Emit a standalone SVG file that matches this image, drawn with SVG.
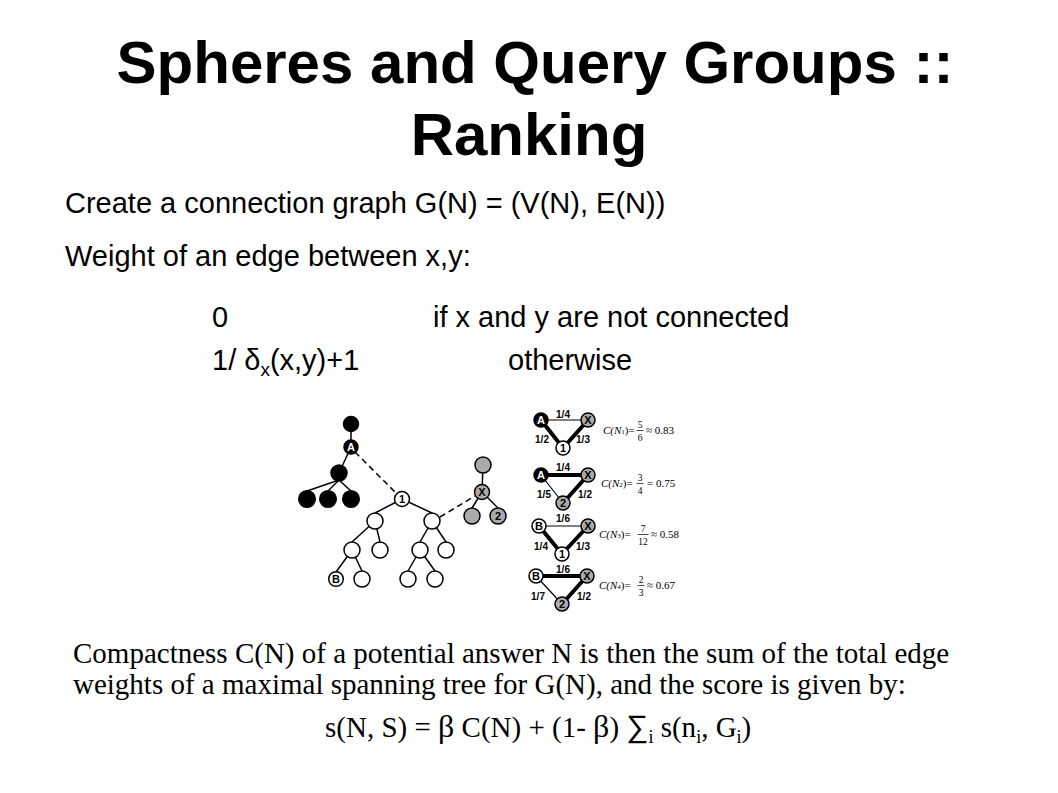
<svg xmlns="http://www.w3.org/2000/svg" width="1058" height="793" viewBox="0 0 1058 793">
<style>
.sans{font-family:"Liberation Sans",Arial,sans-serif;fill:#000}
.serif{font-family:"Liberation Serif","Times New Roman",serif;fill:#000}
.title{font-size:60px;font-weight:bold;text-anchor:middle}
.body{font-size:29px}
.edge{stroke:#000;stroke-width:1.5;fill:none}
.dash{stroke-dasharray:6 4}
.thick{stroke-width:4}
.thin{stroke-width:1.2}
circle{stroke:#000;stroke-width:1.5}
.w{fill:#fff}
.b{fill:#000}
.g{fill:#aaaaaa}
.lbl{font-family:"Liberation Sans",Arial,sans-serif;font-weight:bold;font-size:11px;text-anchor:middle;fill:#000}
.lw{fill:#fff}
.wl{font-family:"Liberation Sans",Arial,sans-serif;font-weight:bold;font-size:10px;text-anchor:middle;fill:#000}
.f{font-family:"Liberation Serif","Times New Roman",serif;font-size:11px;fill:#000}
.fi{font-style:italic}
.fr{font-family:"Liberation Serif","Times New Roman",serif;font-size:9.5px;text-anchor:middle;fill:#000}
.bar{stroke:#000;stroke-width:0.7}
</style>
<rect width="1058" height="793" fill="#fff"/>
<g id="title">
<text class="sans title" x="535" y="83">Spheres and Query Groups ::</text>
<text class="sans title" x="529" y="155">Ranking</text>
</g>
<g id="text-top">
<text class="sans body" x="65" y="213">Create a connection graph G(N) = (V(N), E(N))</text>
<text class="sans body" x="65" y="266">Weight of an edge between x,y:</text>
<text class="sans body" x="212" y="327">0</text>
<text class="sans body" x="433" y="327">if x and y are not connected</text>
<text class="sans body" x="212" y="370">1/ δ<tspan font-size="19" dy="6">x</tspan><tspan dy="-6">(x,y)+1</tspan></text>
<text class="sans body" x="508" y="370">otherwise</text>
</g>
<g id="connectors">
<line class="edge" x1="351" y1="424" x2="351" y2="447" stroke-width="2"/>
<line class="edge" x1="351" y1="447" x2="339" y2="473"/>
<line class="edge" x1="339" y1="480" x2="307" y2="491"/>
<line class="edge" x1="339" y1="480" x2="328" y2="491"/>
<line class="edge" x1="339" y1="480" x2="351" y2="491"/>
<line class="edge dash" x1="355" y1="452" x2="397" y2="494"/>
<line class="edge" x1="402" y1="499" x2="375" y2="513"/>
<line class="edge" x1="402" y1="499" x2="432" y2="513"/>
<line class="edge" x1="375" y1="521" x2="352" y2="542"/>
<line class="edge" x1="375" y1="521" x2="380" y2="542"/>
<line class="edge" x1="432" y1="521" x2="420" y2="542"/>
<line class="edge" x1="432" y1="521" x2="446" y2="542"/>
<line class="edge" x1="352" y1="550" x2="336" y2="572"/>
<line class="edge" x1="352" y1="550" x2="362" y2="571"/>
<line class="edge" x1="420" y1="550" x2="408" y2="571"/>
<line class="edge" x1="420" y1="550" x2="435" y2="571"/>
<line class="edge dash" x1="440" y1="517" x2="475" y2="496"/>
<line class="edge" x1="483" y1="465" x2="482" y2="492" stroke-width="2.5"/>
<line class="edge" x1="482" y1="492" x2="472" y2="508"/>
<line class="edge" x1="482" y1="492" x2="498" y2="508"/>
<!-- triangle 1 -->
<line class="edge thin" x1="541" y1="420" x2="588" y2="420"/>
<line class="edge thick" x1="541" y1="420" x2="563" y2="448"/>
<line class="edge thick" x1="588" y1="420" x2="563" y2="448"/>
<!-- triangle 2 -->
<line class="edge thick" x1="541" y1="475" x2="588" y2="475"/>
<line class="edge thin" x1="541" y1="475" x2="563" y2="503"/>
<line class="edge thick" x1="588" y1="475" x2="563" y2="503"/>
<!-- triangle 3 -->
<line class="edge thin" x1="539" y1="526" x2="588" y2="526"/>
<line class="edge thick" x1="539" y1="526" x2="562" y2="554"/>
<line class="edge thick" x1="588" y1="526" x2="562" y2="554"/>
<!-- triangle 4 -->
<line class="edge thick" x1="536" y1="576" x2="587" y2="576"/>
<line class="edge thin" x1="536" y1="576" x2="562" y2="604"/>
<line class="edge thick" x1="587" y1="576" x2="562" y2="604"/>
</g>
<g id="tree-nodes">
<g id="n-top"><circle class="b" cx="351" cy="424" r="7.5"/></g>
<g id="n-A"><circle class="b" cx="351" cy="447" r="7"/><text class="lbl lw" x="351" y="451">A</text></g>
<g id="n-mid"><circle class="b" cx="339" cy="473" r="8"/></g>
<g id="n-b1"><circle class="b" cx="307" cy="499" r="8.3"/></g>
<g id="n-b2"><circle class="b" cx="328" cy="499" r="8.3"/></g>
<g id="n-b3"><circle class="b" cx="351" cy="499" r="8.3"/></g>
<g id="n-1"><circle class="w" cx="402" cy="499" r="7.5"/><text class="lbl" x="402" y="503">1</text></g>
<g id="n-L"><circle class="w" cx="375" cy="521" r="8"/></g>
<g id="n-R"><circle class="w" cx="432" cy="521" r="8"/></g>
<g id="n-L1"><circle class="w" cx="352" cy="550" r="8"/></g>
<g id="n-L2"><circle class="w" cx="380" cy="550" r="8"/></g>
<g id="n-R1"><circle class="w" cx="420" cy="550" r="8"/></g>
<g id="n-R2"><circle class="w" cx="446" cy="550" r="8"/></g>
<g id="n-B"><circle class="w" cx="336" cy="579" r="7.3"/><text class="lbl" x="336" y="583">B</text></g>
<g id="n-L12"><circle class="w" cx="362" cy="579" r="8"/></g>
<g id="n-R11"><circle class="w" cx="408" cy="579" r="8"/></g>
<g id="n-R12"><circle class="w" cx="435" cy="579" r="8"/></g>
<g id="n-gtop"><circle class="g" cx="483" cy="465" r="8"/></g>
<g id="n-X"><circle class="g" cx="482" cy="492" r="7.5"/><text class="lbl" x="482" y="496">X</text></g>
<g id="n-g1"><circle class="g" cx="472" cy="516" r="8"/></g>
<g id="n-2"><circle class="g" cx="498" cy="516" r="8"/><text class="lbl" x="498" y="520">2</text></g>
</g>
<g id="triangle-nodes">
<g id="t1-A"><circle class="b" cx="541" cy="420" r="7"/><text class="lbl lw" x="541" y="424">A</text></g>
<g id="t1-X"><circle class="g" cx="588" cy="420" r="7"/><text class="lbl" x="588" y="424">X</text></g>
<g id="t1-1"><circle class="w" cx="563" cy="448" r="7"/><text class="lbl" x="563" y="452">1</text></g>
<g id="t2-A"><circle class="b" cx="541" cy="475" r="7"/><text class="lbl lw" x="541" y="479">A</text></g>
<g id="t2-X"><circle class="g" cx="588" cy="475" r="7"/><text class="lbl" x="588" y="479">X</text></g>
<g id="t2-2"><circle class="g" cx="563" cy="503" r="7"/><text class="lbl" x="563" y="507">2</text></g>
<g id="t3-B"><circle class="w" cx="539" cy="526" r="7"/><text class="lbl" x="539" y="530">B</text></g>
<g id="t3-X"><circle class="g" cx="588" cy="526" r="7"/><text class="lbl" x="588" y="530">X</text></g>
<g id="t3-1"><circle class="w" cx="562" cy="554" r="7"/><text class="lbl" x="562" y="558">1</text></g>
<g id="t4-B"><circle class="w" cx="536" cy="576" r="7"/><text class="lbl" x="536" y="580">B</text></g>
<g id="t4-X"><circle class="g" cx="587" cy="576" r="7"/><text class="lbl" x="587" y="580">X</text></g>
<g id="t4-2"><circle class="g" cx="562" cy="604" r="7"/><text class="lbl" x="562" y="608">2</text></g>
</g>
<g id="weights">
<text class="wl" x="563" y="418">1/4</text>
<text class="wl" x="542" y="443">1/2</text>
<text class="wl" x="583" y="443">1/3</text>
<text class="wl" x="563" y="471">1/4</text>
<text class="wl" x="544" y="498">1/5</text>
<text class="wl" x="585" y="498">1/2</text>
<text class="wl" x="563" y="522">1/6</text>
<text class="wl" x="541" y="550">1/4</text>
<text class="wl" x="583" y="550">1/3</text>
<text class="wl" x="563" y="573">1/6</text>
<text class="wl" x="538" y="600">1/7</text>
<text class="wl" x="584" y="600">1/2</text>
</g>
<g id="formulas">
<text class="f" x="603" y="434"><tspan class="fi">C(N</tspan><tspan font-size="7">1</tspan>)=</text>
<text class="fr" x="640" y="427.5">5</text><line class="bar" x1="636.5" y1="430.5" x2="643.5" y2="430.5"/><text class="fr" x="640" y="441">6</text>
<text class="f" x="646" y="434">≈ 0.83</text>
<text class="f" x="601" y="487"><tspan class="fi">C(N</tspan><tspan font-size="7">2</tspan>)=</text>
<text class="fr" x="640" y="480.5">3</text><line class="bar" x1="636.5" y1="483.5" x2="643.5" y2="483.5"/><text class="fr" x="640" y="494">4</text>
<text class="f" x="647" y="487">= 0.75</text>
<text class="f" x="599" y="538"><tspan class="fi">C(N</tspan><tspan font-size="7">3</tspan>)=</text>
<text class="fr" x="643" y="531.5">7</text><line class="bar" x1="637.5" y1="534.5" x2="648.5" y2="534.5"/><text class="fr" x="643" y="545">12</text>
<text class="f" x="651" y="538">≈ 0.58</text>
<text class="f" x="599" y="589"><tspan class="fi">C(N</tspan><tspan font-size="7">4</tspan>)=</text>
<text class="fr" x="641" y="582.5">2</text><line class="bar" x1="637.5" y1="585.5" x2="644.5" y2="585.5"/><text class="fr" x="641" y="596">3</text>
<text class="f" x="647" y="589">≈ 0.67</text>
</g>
<g id="text-bottom">
<text class="serif body" x="73" y="663">Compactness C(N) of a potential answer N is then the sum of the total edge</text>
<text class="serif body" x="73" y="694">weights of a maximal spanning tree for G(N), and the score is given by:</text>
<text class="serif body" x="325" y="737">s(N, S) = <tspan font-size="32">β</tspan> C(N) + (1- <tspan font-size="32">β</tspan>) <tspan font-family="'Liberation Sans','DejaVu Sans',sans-serif" font-size="31">∑</tspan><tspan font-size="18" dy="6">i</tspan><tspan dy="-6"> s(n</tspan><tspan font-size="18" dy="6">i</tspan><tspan dy="-6">, G</tspan><tspan font-size="18" dy="6">i</tspan><tspan dy="-6">)</tspan></text>
</g>
</svg>
